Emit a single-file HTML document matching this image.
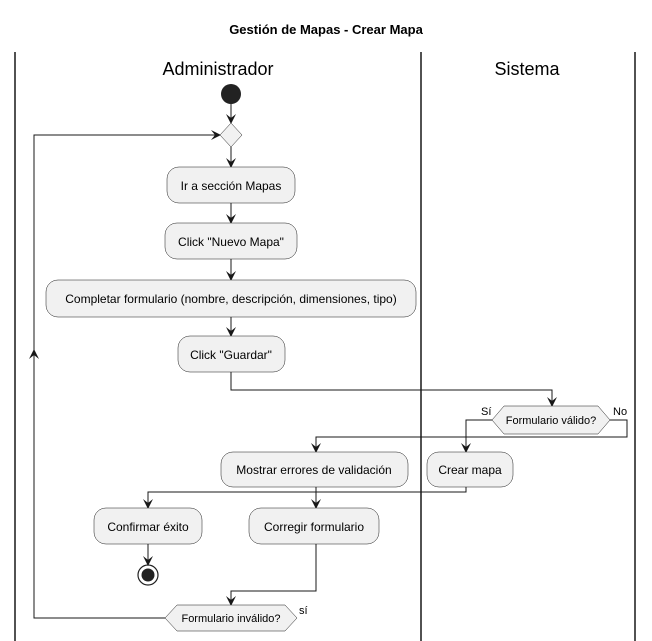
<!DOCTYPE html>
<html><head><meta charset="utf-8"><style>body{margin:0;background:#fff}svg{display:block}text{font-family:"Liberation Sans","DejaVu Sans",sans-serif;fill:#000}</style></head>
<body>
<svg width="652" height="641" viewBox="0 0 652 641" xmlns="http://www.w3.org/2000/svg">
<defs><marker id="a" markerWidth="10" markerHeight="10" refX="9" refY="5" orient="auto" markerUnits="userSpaceOnUse"><path d="M0,0 L10,5 L0,10 L4,5 Z" fill="#181818"/></marker></defs>
<text x="326" y="34" font-size="13" font-weight="bold" text-anchor="middle">Gestión de Mapas - Crear Mapa</text>
<g stroke="#181818" stroke-width="1.5"><line x1="15" y1="52" x2="15" y2="641"/><line x1="421" y1="52" x2="421" y2="641"/><line x1="635" y1="52" x2="635" y2="641"/></g>
<text x="218" y="75" font-size="18" text-anchor="middle">Administrador</text>
<text x="527" y="75" font-size="18" text-anchor="middle">Sistema</text>
<circle cx="231" cy="94" r="10" fill="#222"/>
<g stroke="#181818" fill="none" stroke-width="1">
<line x1="231" y1="104" x2="231" y2="123" marker-end="url(#a)"/>
<line x1="231" y1="147" x2="231" y2="167" marker-end="url(#a)"/>
<line x1="231" y1="203" x2="231" y2="223" marker-end="url(#a)"/>
<line x1="231" y1="259" x2="231" y2="280" marker-end="url(#a)"/>
<line x1="231" y1="317" x2="231" y2="336" marker-end="url(#a)"/>
<polyline points="231,372 231,390 552,390 552,406" marker-end="url(#a)"/>
<polyline points="492,420 466,420 466,452" marker-end="url(#a)"/>
<polyline points="610,420 627,420 627,437 316,437 316,452" marker-end="url(#a)"/>
<polyline points="466,487 466,492 148,492 148,508" marker-end="url(#a)"/>
<line x1="316" y1="487" x2="316" y2="508" marker-end="url(#a)"/>
<line x1="148" y1="544" x2="148" y2="565" marker-end="url(#a)"/>
<polyline points="316,544 316,591 231,591 231,605" marker-end="url(#a)"/>
<polyline points="165,618 34,618 34,135 220,135" marker-end="url(#a)"/>
<line x1="34" y1="380" x2="34" y2="350" marker-end="url(#a)"/>
</g>
<g fill="#f1f1f1" stroke="#181818" stroke-width="0.5">
<polygon points="220,135 231,123 242,135 231,147"/>
<rect x="167" y="167" width="128" height="36" rx="12"/>
<rect x="165" y="223" width="132" height="36" rx="12"/>
<rect x="46" y="280" width="370" height="37" rx="12"/>
<rect x="178" y="336" width="107" height="36" rx="12"/>
<polygon points="492,420 504,406 598,406 610,420 598,434 504,434"/>
<rect x="427" y="452" width="86" height="35" rx="12"/>
<rect x="221" y="452" width="187" height="35" rx="12"/>
<rect x="94" y="508" width="108" height="36" rx="12"/>
<rect x="249" y="508" width="130" height="36" rx="12"/>
<polygon points="165,618 177,605 285,605 297,618 285,631 177,631"/>
</g>
<circle cx="148" cy="575" r="10" fill="none" stroke="#222" stroke-width="1.2"/><circle cx="148" cy="575" r="6.5" fill="#222"/>
<g font-size="12" text-anchor="middle">
<text x="231" y="190">Ir a sección Mapas</text>
<text x="231" y="246">Click "Nuevo Mapa"</text>
<text x="231" y="303">Completar formulario (nombre, descripción, dimensiones, tipo)</text>
<text x="231" y="359">Click "Guardar"</text>
<text x="551" y="424" font-size="11">Formulario válido?</text>
<text x="470" y="474">Crear mapa</text>
<text x="314" y="474">Mostrar errores de validación</text>
<text x="148" y="531">Confirmar éxito</text>
<text x="314" y="531">Corregir formulario</text>
<text x="231" y="622" font-size="11">Formulario inválido?</text>
</g>
<g font-size="11"><text x="481" y="415">Sí</text><text x="613" y="415">No</text><text x="299" y="614">sí</text></g>
</svg>
</body></html>
